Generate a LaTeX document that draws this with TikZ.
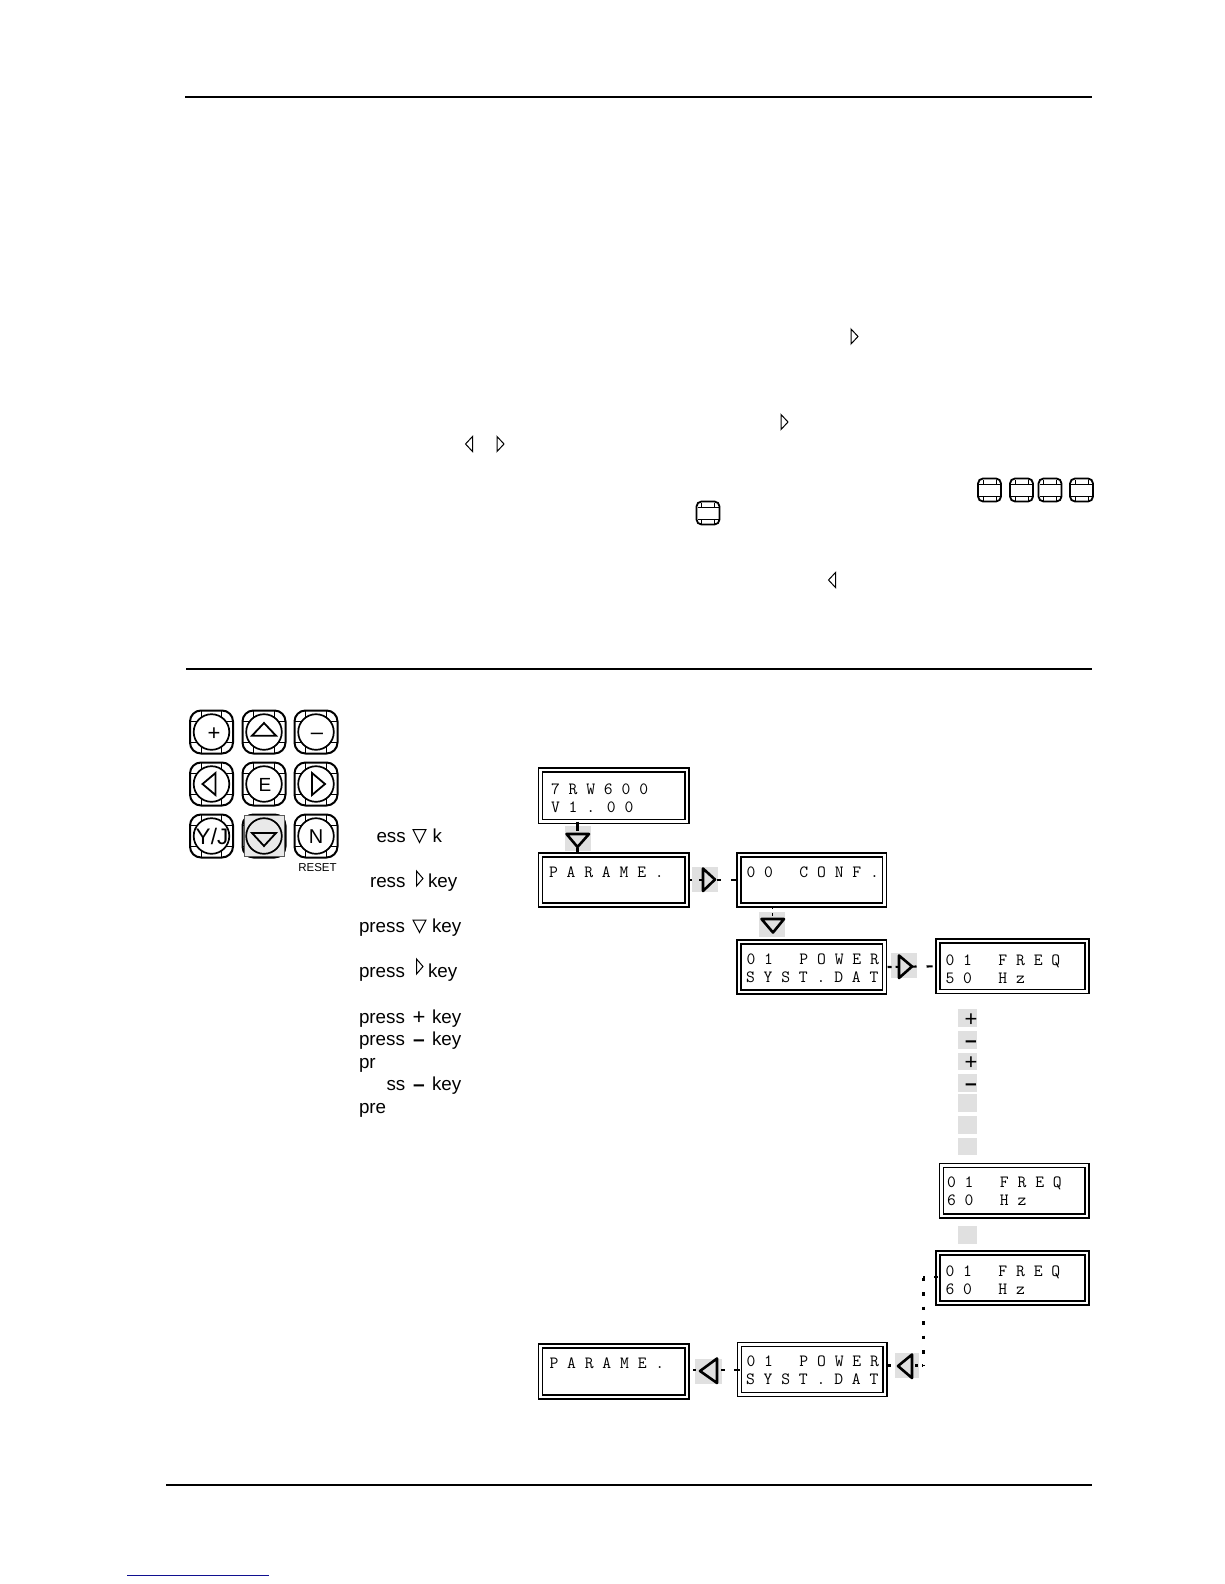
\documentclass[tikz,border=0pt]{standalone}
\usepackage{fontspec}
\setmainfont{Liberation Sans}
\definecolor{keygray}{HTML}{E0E0E0}
\definecolor{linkblue}{HTML}{101090}
\newcommand{\txsize}{\fontsize{18.8pt}{20pt}\selectfont}
\tikzset{
  rule/.style={line width=2pt,black},
  lcdbox/.style={draw,double,line width=1.8pt,double distance=2.2pt,rectangle,inner sep=0pt,outer sep=0pt},
  lcdtext/.style={anchor=base west,inner sep=0pt,outer sep=0pt,font=\ttfamily\fontsize{17.15pt}{18pt}\selectfont},
  body/.style={anchor=base west,inner sep=0pt,outer sep=0pt,font=\txsize},
  keytext/.style={anchor=base,inner sep=0pt,outer sep=0pt,font=\fontsize{19pt}{20pt}\selectfont},
  conn/.style={line width=2.2pt},
  tri/.style={line width=2.6pt,line join=round},
  keytri/.style={line width=1.8pt,line join=miter},
  smalltri/.style={line width=1pt,line join=miter,fill=white},
  graybox/.style={fill=keygray,draw=none,inner sep=0pt,outer sep=0pt,rectangle},
  signtext/.style={anchor=base,inner sep=0pt,outer sep=0pt,font=\fontsize{22pt}{22pt}\selectfont},
  dashtext/.style={anchor=base,inner sep=0pt,outer sep=0pt,font=\bfseries\fontsize{21pt}{22pt}\selectfont},
}
% name, x0, y0, x1, y1 (centre lines of the double frame)
\newcommand{\lcd}[5]{\node[lcdbox,minimum width={(#4-#2)*1pt},minimum height={(#5-#3)*1pt}] (#1) at ({(#2+#4)/2},{(#3+#5)/2}) {};}
% gray box: name, x0, y0, x1, y1
\newcommand{\gbx}[5]{\node[graybox,minimum width={(#4-#2)*1pt},minimum height={(#5-#3)*1pt}] (#1) at ({(#2+#4)/2},{(#3+#5)/2}) {};}
% key button: cx, cy, content
\newcommand{\keybtn}[3]{%
  \begin{scope}[shift={(#1,#2)}]
    \begin{scope}
      \clip[rounded corners=11pt] (-21.5,-21.5) rectangle (21.5,21.5);
      \draw[line width=1.1pt] (-21.5,-10.5) -- (21.5,-10.5) (-21.5,10.5) -- (21.5,10.5)
        (-10.3,-21.5) -- (-10.3,21.5) (10.3,-21.5) -- (10.3,21.5);
    \end{scope}
    \draw[line width=2pt,rounded corners=11pt] (-21.5,-21.5) rectangle (21.5,21.5);
    \draw[line width=1.7pt,fill=white] (0,0) circle (17.8pt);
    #3
  \end{scope}}
% small key: x0, y0
\newcommand{\smallkey}[2]{%
  \begin{scope}[shift={(#1,#2)}]
    \draw[line width=0.9pt] (1,5.5) -- (22,5.5) (1,17.5) -- (22,17.5)
      (5,1) -- (5,5.5) (18,1) -- (18,5.5) (5,17.5) -- (5,22) (18,17.5) -- (18,22);
    \draw[line width=1.8pt,rounded corners=5pt] (0,0) rectangle (23,23);
  \end{scope}}
\begin{document}
\begin{tikzpicture}[x=1pt,y=-1pt]
\useasboundingbox (0,0) rectangle (1224,1584);
\fill[white] (0,0) rectangle (1224,1584);
% page rules
\coordinate (r1a) at (185,97); \coordinate (r1b) at (1092,97);
\coordinate (r2a) at (186,668.5); \coordinate (r2b) at (1092,668.5);
\coordinate (r3a) at (166,1484.7); \coordinate (r3b) at (1092,1484.7);
\coordinate (r4a) at (127,1575); \coordinate (r4b) at (269,1575);
\draw[rule] (r1a) -- (r1b);
\draw[rule] (r2a) -- (r2b);
\draw[rule] (r3a) -- (r3b);
\draw[line width=1pt,linkblue] (r4a) -- (r4b);
% small symbols in the upper part
\draw[smalltri] (851,329) -- (858,336.5) -- (851,344) -- cycle;
\draw[smalltri] (781,414.5) -- (788,422) -- (781,429.5) -- cycle;
\draw[smalltri] (472.5,436.5) -- (465.5,444) -- (472.5,451.5) -- cycle;
\draw[smalltri] (497,436.5) -- (504,444) -- (497,451.5) -- cycle;
\draw[smalltri] (835.5,572.5) -- (828.5,580) -- (835.5,587.5) -- cycle;
\smallkey{978}{478.5}\smallkey{1010}{478.5}\smallkey{1038.5}{478.5}\smallkey{1070}{478.5}
\smallkey{696.5}{501.5}
% keypad
\keybtn{211.5}{732}{\node[signtext] (kplus) at (2.5,8) {+};}
\keybtn{264}{732}{\draw[keytri] (-12,3.7) -- (12,3.7) -- (0,-9) -- cycle;}
\keybtn{316}{732}{\node[keytext,font=\fontsize{22pt}{22pt}\selectfont] (kminus) at (1,7) {–};}
\keybtn{211.5}{784}{\draw[keytri] (4,-11) -- (4,11) -- (-9,0) -- cycle;}
\keybtn{264}{784}{\node[keytext] (ke) at (1,7) {E};}
\keybtn{316}{784}{\draw[keytri] (-4,-11) -- (-4,11) -- (9,0) -- cycle;}
\keybtn{211.5}{836}{\node[keytext,font=\fontsize{22.5pt}{24pt}\selectfont] (kyj) at (0.5,8) {Y/J};}
\keybtn{264}{836}{}
\node[graybox,draw=black!65,line width=0.6pt,fill=keygray!70,minimum width=40pt,minimum height=41pt] (downbg) at (264,836) {};
\draw[line width=1.7pt,fill=keygray!70] (downbg.center) circle (17.8pt);
\draw[keytri] (252,833) -- (276,833) -- (264,846) -- cycle;
\keybtn{316}{836}{\node[keytext,font=\fontsize{20pt}{20pt}\selectfont] (kn) at (0,7) {N};}
\node[inner sep=0pt,font=\fontsize{11.5pt}{12pt}\selectfont] (reset) at (317.5,867.5) {RESET};
% instruction texts
\node[body] (t1) at (376.5,842.3) {ess};
\node[body] (t1b) at (432.5,842.3) {k};
\draw[smalltri] (413,829.5) -- (426,829.5) -- (419.5,842.5) -- cycle;
\node[body] (t2) at (370,887.3) {ress};
\node[body] (t2b) at (428,887.3) {key};
\draw[smalltri] (416.5,871) -- (423,878.5) -- (416.5,886) -- cycle;
\node[body] (t3) at (359,932.3) {press};
\node[body] (t3b) at (432,932.3) {key};
\draw[smalltri] (413,920) -- (426,920) -- (419.5,932.5) -- cycle;
\node[body] (t4) at (359,977.3) {press};
\node[body] (t4b) at (428,977.3) {key};
\draw[smalltri] (416.5,959) -- (423,966.5) -- (416.5,974) -- cycle;
\node[body] (t5) at (359,1023.3) {press};
\node[signtext] (t5s) at (419,1024) {+};
\node[body] (t5b) at (432,1023.3) {key};
\node[body] (t6) at (359,1045.6) {press};
\node[dashtext] (t6s) at (419,1046) {–};
\node[body] (t6b) at (432,1045.6) {key};
\node[body] (t7) at (359,1068.3) {pr};
\node[body] (t8) at (386.5,1090.6) {ss};
\node[dashtext] (t8s) at (419,1091) {–};
\node[body] (t8b) at (432,1090.6) {key};
\node[body] (t9) at (359,1113.3) {pre};
% displays
\lcd{d1}{540.5}{770}{687}{821.5}
\lcd{d2}{540.5}{855}{687}{905}
\lcd{d3}{739}{855}{884.5}{905}
\lcd{d4}{739}{942}{884.5}{992}
\lcd{d5}{938}{941}{1087}{991.5}
\lcd{d6}{941.5}{1165.5}{1087}{1216}
\lcd{d7}{938}{1253}{1087}{1303}
\lcd{d8}{739.5}{1344.5}{885}{1394.5}
\lcd{d9}{540.5}{1346}{687}{1397}
\node[lcdtext] (a1) at (551,794) {7 R W 6 0 0};
\node[lcdtext] (a2) at (551,812) {V 1 . 0 0};
\node[lcdtext] (b1) at (549,877) {P A R A M E .};
\node[lcdtext] (c1) at (746.5,877) {0 0~~~C O N F .};
\node[lcdtext] (e1) at (746.5,964) {0 1~~~P O W E R};
\node[lcdtext] (e2) at (746,982) {S Y S T . D A T};
\node[lcdtext] (f1) at (945.5,965) {0 1~~~F R E Q};
\node[lcdtext] (f2) at (945.5,983) {5 0~~~H z};
\node[lcdtext] (g1) at (947,1187) {0 1~~~F R E Q};
\node[lcdtext] (g2) at (947,1205) {6 0~~~H z};
\node[lcdtext] (h1) at (945.5,1276) {0 1~~~F R E Q};
\node[lcdtext] (h2) at (945.5,1294) {6 0~~~H z};
\node[lcdtext] (i1) at (746.5,1366) {0 1~~~P O W E R};
\node[lcdtext] (i2) at (746,1384) {S Y S T . D A T};
\node[lcdtext] (j1) at (549.5,1368) {P A R A M E .};
% gray squares under the arrows
\gbx{s1}{565}{826}{591}{851}
\gbx{s2}{692}{867}{718}{892}
\gbx{s3}{759}{912}{785}{937}
\gbx{s4}{891}{953}{917}{978}
\gbx{s5}{895}{1353}{918.5}{1378}
\gbx{s6}{695}{1359}{722}{1384}
% gray key squares
\gbx{k1}{958}{1009}{977}{1027}
\gbx{k2}{958}{1031}{977}{1049}
\gbx{k3}{958}{1053}{977}{1070}
\gbx{k4}{958}{1074}{977}{1092}
\gbx{k5}{958}{1094}{977}{1112}
\gbx{k6}{958}{1116}{977}{1134}
\gbx{k7}{958}{1138}{977}{1155}
\gbx{k8}{958}{1226}{977}{1244}
\node[signtext] (p1) at (971,1026) {+};
\node[dashtext] (p2) at (971,1047) {–};
\node[signtext] (p3) at (971,1069.5) {+};
\node[dashtext] (p4) at (971,1090) {–};
% connectors
\coordinate (n1) at (577.5,0);
\draw[conn,dash pattern=on 9.5pt off 17pt on 6pt off 50pt] (d1.south -| n1) -- (d2.north -| n1);
\draw[conn,dash pattern=on 3pt off 7pt on 3pt off 15pt on 4pt off 10pt on 6pt off 50pt] (d2.east) ++(2,0) -- (d3.west);
\draw[line width=1pt,dash pattern=on 3pt off 4pt on 3pt off 27pt on 4pt off 20pt] (d3.south -| s3) ++(0,1) -- (d4.north -| s3);
\draw[conn,dash pattern=on 4pt off 4pt on 3pt off 14pt on 4pt off 10pt on 6pt off 50pt] (d4.east) ++(3,0) -- (d5.west);
\coordinate (bend1) at (923,1277);
\coordinate (bend2) at (923,1365.5);
\draw[conn,dash pattern=on 4.5pt off 9pt] (d7.west |- bend1) -- (bend1);
\draw[line width=3pt,dash pattern=on 3.5pt off 11pt] (bend1) ++(0,0.5) -- (bend2);
\draw[conn,dash pattern=on 1.5pt off 4pt on 3pt off 24pt on 4pt off 50pt] (bend2) -- (d8.east |- bend2);
\coordinate (lft) at (704,1370);
\draw[conn,dash pattern=on 6pt off 9pt on 4pt off 25pt on 3pt off 50pt] (d8.west |- lft) -- (d9.east |- lft);
% arrow triangles
\draw[tri] (566.5,834) -- (589,834) -- (577.5,847) -- cycle;
\draw[tri] (703,868.5) -- (703,891) -- (715,879.5) -- cycle;
\draw[tri] (761.5,919) -- (784,919) -- (773,932.5) -- cycle;
\draw[tri] (899,955.5) -- (899,978) -- (912,966.5) -- cycle;
\draw[tri] (912,1354.5) -- (912,1378) -- (898,1366) -- cycle;
\draw[tri] (717,1358.5) -- (717,1383) -- (700,1371) -- cycle;
\end{tikzpicture}
\end{document}
